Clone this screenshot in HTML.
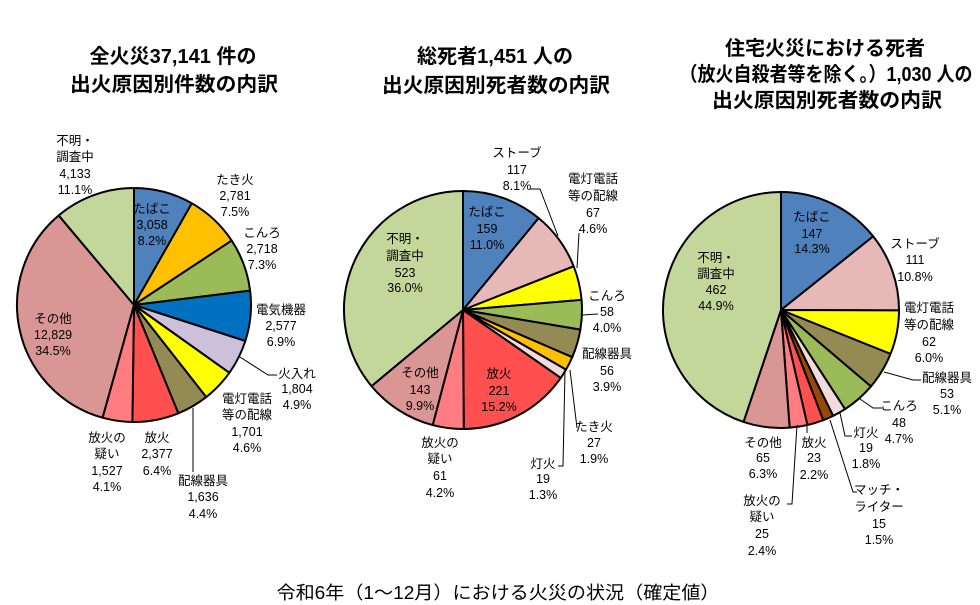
<!DOCTYPE html>
<html>
<head>
<meta charset="utf-8">
<style>
html,body{margin:0;padding:0;background:#fff;}
body{width:980px;height:605px;overflow:hidden;}
svg{display:block;}
.t{font-family:"Liberation Sans","Noto Sans CJK JP",sans-serif;font-size:20px;font-weight:bold;fill:#000;text-anchor:middle;}
.l{font-family:"Liberation Sans","Noto Sans CJK JP",sans-serif;font-size:12.5px;fill:#000;text-anchor:middle;}
.c{font-family:"Liberation Sans","Noto Sans CJK JP",sans-serif;font-size:18px;fill:#000;text-anchor:middle;}
.ld{fill:none;stroke:#000;stroke-width:1;}
</style>
</head>
<body>
<svg id="s" width="980" height="605" viewBox="0 0 980 605" xmlns="http://www.w3.org/2000/svg">
<g id="pies"></g>

<!-- Titles -->
<text class="t" x="173" y="63" textLength="167" lengthAdjust="spacingAndGlyphs">全火災37,141 件の</text>
<text class="t" x="174" y="91" textLength="208" lengthAdjust="spacingAndGlyphs">出火原因別件数の内訳</text>
<text class="t" x="495" y="63" textLength="156" lengthAdjust="spacingAndGlyphs">総死者1,451 人の</text>
<text class="t" x="496" y="92" textLength="228" lengthAdjust="spacingAndGlyphs">出火原因別死者数の内訳</text>
<text class="t" x="825" y="55" textLength="200" lengthAdjust="spacingAndGlyphs">住宅火災における死者</text>
<text class="t" x="826" y="81" textLength="293" lengthAdjust="spacingAndGlyphs">（放火自殺者等を除く。）1,030 人の</text>
<text class="t" x="827" y="107" textLength="230" lengthAdjust="spacingAndGlyphs">出火原因別死者数の内訳</text>

<!-- Caption -->
<text class="c" x="498" y="599" textLength="443" lengthAdjust="spacingAndGlyphs">令和6年（1～12月）における火災の状況（確定値）</text>

<!-- Leaders -->
<polyline class="ld" points="240,357 268,375 277,375"/>
<polyline class="ld" points="193,408 193,472"/>

<polyline class="ld" points="530,189 540,189 558,236"/>
<polyline class="ld" points="579,233 577,268"/>
<polyline class="ld" points="582,315 598,314"/>
<polyline class="ld" points="570,370 577,428"/>
<polyline class="ld" points="565,370 563,466 558,466"/>

<polyline class="ld" points="884,372 913,380 921,380"/>
<polyline class="ld" points="860,399 873,408 882,408"/>
<polyline class="ld" points="840,413 845,436 852,436"/>
<polyline class="ld" points="830,420 853,492 857,492"/>
<polyline class="ld" points="807,424 807,433"/>
<polyline class="ld" points="797,425 792,504 787,504"/>

<!-- Pie 1 labels -->
<text class="l" x="75" y="145">不明・</text>
<text class="l" x="75" y="161">調査中</text>
<text class="l" x="75" y="178">4,133</text>
<text class="l" x="75" y="194">11.1%</text>

<text class="l" x="152" y="213">たばこ</text>
<text class="l" x="152" y="229">3,058</text>
<text class="l" x="152" y="245">8.2%</text>

<text class="l" x="235" y="184">たき火</text>
<text class="l" x="235" y="200">2,781</text>
<text class="l" x="235" y="216">7.5%</text>

<text class="l" x="262" y="237">こんろ</text>
<text class="l" x="262" y="253">2,718</text>
<text class="l" x="262" y="269">7.3%</text>

<text class="l" x="281" y="314">電気機器</text>
<text class="l" x="281" y="330">2,577</text>
<text class="l" x="281" y="346">6.9%</text>

<text class="l" x="53" y="323">その他</text>
<text class="l" x="53" y="339">12,829</text>
<text class="l" x="53" y="355">34.5%</text>

<text class="l" x="297" y="378">火入れ</text>
<text class="l" x="297" y="393">1,804</text>
<text class="l" x="297" y="409">4.9%</text>

<text class="l" x="247" y="403">電灯電話</text>
<text class="l" x="247" y="419">等の配線</text>
<text class="l" x="247" y="436">1,701</text>
<text class="l" x="247" y="452">4.6%</text>

<text class="l" x="203" y="485">配線器具</text>
<text class="l" x="203" y="501">1,636</text>
<text class="l" x="203" y="518">4.4%</text>

<text class="l" x="157" y="442">放火</text>
<text class="l" x="157" y="458">2,377</text>
<text class="l" x="157" y="475">6.4%</text>

<text class="l" x="107" y="442">放火の</text>
<text class="l" x="107" y="458">疑い</text>
<text class="l" x="107" y="475">1,527</text>
<text class="l" x="107" y="491">4.1%</text>

<!-- Pie 2 labels -->
<text class="l" x="517" y="157">ストーブ</text>
<text class="l" x="517" y="174">117</text>
<text class="l" x="517" y="190">8.1%</text>

<text class="l" x="593" y="183">電灯電話</text>
<text class="l" x="593" y="200">等の配線</text>
<text class="l" x="593" y="217">67</text>
<text class="l" x="593" y="233">4.6%</text>

<text class="l" x="607" y="300">こんろ</text>
<text class="l" x="607" y="316">58</text>
<text class="l" x="607" y="332">4.0%</text>

<text class="l" x="607" y="358">配線器具</text>
<text class="l" x="607" y="375">56</text>
<text class="l" x="607" y="391">3.9%</text>

<text class="l" x="594" y="431">たき火</text>
<text class="l" x="594" y="447">27</text>
<text class="l" x="594" y="463">1.9%</text>

<text class="l" x="543" y="468">灯火</text>
<text class="l" x="543" y="483">19</text>
<text class="l" x="543" y="499">1.3%</text>

<text class="l" x="499" y="378">放火</text>
<text class="l" x="499" y="395">221</text>
<text class="l" x="499" y="411">15.2%</text>

<text class="l" x="420" y="377">その他</text>
<text class="l" x="420" y="394">143</text>
<text class="l" x="420" y="410">9.9%</text>

<text class="l" x="440" y="447">放火の</text>
<text class="l" x="440" y="463">疑い</text>
<text class="l" x="440" y="480">61</text>
<text class="l" x="440" y="497">4.2%</text>

<text class="l" x="487" y="216">たばこ</text>
<text class="l" x="487" y="233">159</text>
<text class="l" x="487" y="249">11.0%</text>

<text class="l" x="405" y="243">不明・</text>
<text class="l" x="405" y="260">調査中</text>
<text class="l" x="405" y="277">523</text>
<text class="l" x="405" y="292">36.0%</text>

<!-- Pie 3 labels -->
<text class="l" x="812" y="221">たばこ</text>
<text class="l" x="812" y="238">147</text>
<text class="l" x="812" y="253">14.3%</text>

<text class="l" x="915" y="248">ストーブ</text>
<text class="l" x="915" y="264">111</text>
<text class="l" x="915" y="281">10.8%</text>

<text class="l" x="929" y="312">電灯電話</text>
<text class="l" x="929" y="329">等の配線</text>
<text class="l" x="929" y="346">62</text>
<text class="l" x="929" y="362">6.0%</text>

<text class="l" x="716" y="262">不明・</text>
<text class="l" x="716" y="278">調査中</text>
<text class="l" x="716" y="294">462</text>
<text class="l" x="716" y="310">44.9%</text>

<text class="l" x="947" y="382">配線器具</text>
<text class="l" x="947" y="398">53</text>
<text class="l" x="947" y="414">5.1%</text>

<text class="l" x="899" y="410">こんろ</text>
<text class="l" x="899" y="427">48</text>
<text class="l" x="899" y="443">4.7%</text>

<text class="l" x="866" y="437">灯火</text>
<text class="l" x="866" y="452">19</text>
<text class="l" x="866" y="468">1.8%</text>

<text class="l" x="879" y="494">マッチ・</text>
<text class="l" x="879" y="511">ライター</text>
<text class="l" x="879" y="528">15</text>
<text class="l" x="879" y="544">1.5%</text>

<text class="l" x="814" y="447">放火</text>
<text class="l" x="814" y="462">23</text>
<text class="l" x="814" y="479">2.2%</text>

<text class="l" x="763" y="447">その他</text>
<text class="l" x="763" y="462">65</text>
<text class="l" x="763" y="478">6.3%</text>

<text class="l" x="762" y="505">放火の</text>
<text class="l" x="762" y="521">疑い</text>
<text class="l" x="762" y="538">25</text>
<text class="l" x="762" y="555">2.4%</text>
</svg>

<script>
(function(){
  var NS="http://www.w3.org/2000/svg";
  var g=document.getElementById("pies");
  var C={tab:"#4F81BD",tak:"#FFC000",kon:"#9BBB59",den:"#0070C0",hii:"#CCC0DA",dnt:"#FFFF00",hai:"#948A54",hou:"#FF5050",hut:"#FF7C80",son:"#DA9694",fum:"#C4D79B",sto:"#E6B9B8",tou:"#F2DCDB",mat:"#984807"};
  function pie(cx,cy,r,d){
    var tot=0,i;for(i=0;i<d.length;i++)tot+=d[i][0];
    var a=0;
    for(i=0;i<d.length;i++){
      var a0=a,a1=a+d[i][0]/tot*2*Math.PI;a=a1;
      var x0=cx+r*Math.sin(a0),y0=cy-r*Math.cos(a0);
      var x1=cx+r*Math.sin(a1),y1=cy-r*Math.cos(a1);
      var lg=(a1-a0)>Math.PI?1:0;
      var p=document.createElementNS(NS,"path");
      p.setAttribute("d","M"+cx+","+cy+" L"+x0.toFixed(2)+","+y0.toFixed(2)+" A"+r+","+r+" 0 "+lg+" 1 "+x1.toFixed(2)+","+y1.toFixed(2)+" Z");
      p.setAttribute("fill",d[i][1]);
      p.setAttribute("stroke","#000");
      p.setAttribute("stroke-width","2");
      p.setAttribute("stroke-linejoin","round");
      g.appendChild(p);
    }
  }
  pie(134,305,117,[[3058,C.tab],[2781,C.tak],[2718,C.kon],[2577,C.den],[1804,C.hii],[1701,C.dnt],[1636,C.hai],[2377,C.hou],[1527,C.hut],[12829,C.son],[4133,C.fum]]);
  pie(463,310,119,[[159,C.tab],[117,C.sto],[67,C.dnt],[58,C.kon],[56,C.hai],[27,C.tak],[19,C.tou],[221,C.hou],[61,C.hut],[143,C.son],[523,C.fum]]);
  pie(781,310,118,[[147,C.tab],[111,C.sto],[62,C.dnt],[53,C.hai],[48,C.kon],[19,C.tou],[15,C.mat],[23,C.hou],[25,C.hut],[65,C.son],[462,C.fum]]);
})();
</script>
</body>
</html>
